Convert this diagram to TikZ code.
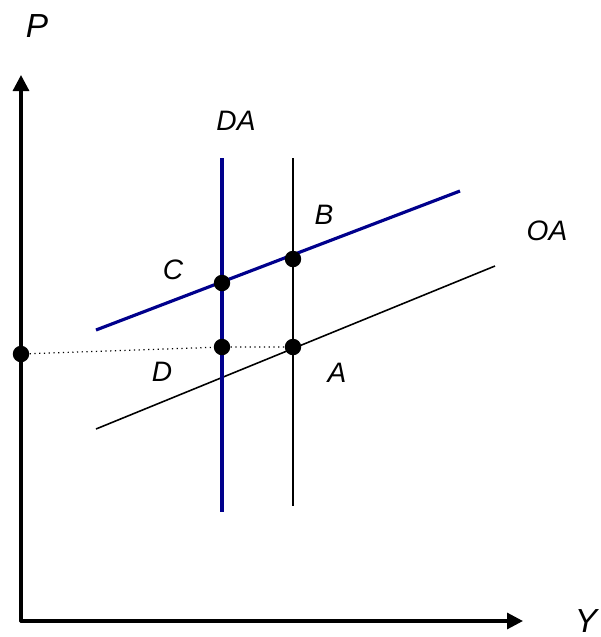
\documentclass[tikz,border=0pt]{standalone}
\usepackage{fontspec}
\setmainfont{Liberation Sans}
\usetikzlibrary{arrows.meta}
\definecolor{daBlue}{RGB}{0,0,140}

\begin{document}
\begin{tikzpicture}[x=0.02cm,y=-0.02cm,
    lbl/.style={font=\itshape\fontsize{16}{16}\selectfont, inner sep=0pt},
    axlbl/.style={font=\itshape\fontsize{19}{19}\selectfont, inner sep=0pt},
    eqpt/.style={circle, fill=black, inner sep=0pt, minimum size=0.33cm}]
    \useasboundingbox (0,0) rectangle (600,637);

    % axes
    \coordinate (orig) at (21,621);
    \coordinate (ptop) at (21,75);
    \coordinate (yend) at (523,621);
    \draw[line width=1.8pt, line cap=round, -{Triangle[length=0.32cm,width=0.32cm]}] (orig) -- (ptop);
    \draw[line width=1.8pt, line cap=round, -{Triangle[length=0.32cm,width=0.32cm]}] (orig) -- (yend);
    \node[axlbl] (labP) at (37,26) {P};
    \node[axlbl] (labY) at (586,621) {Y};

    % curves
    \coordinate (oaL) at (96,429);
    \coordinate (oaR) at (495,266);
    \coordinate (daL) at (96,330);
    \coordinate (daR) at (460,191);
    \coordinate (vbTop) at (222,158);
    \coordinate (vbBot) at (222,512);
    \coordinate (vkTop) at (293,158);
    \coordinate (vkBot) at (293,506);

    \draw[black, line width=0.9pt] (oaL) -- (oaR);
    \draw[black, line width=0.9pt] (vkTop) -- (vkBot);
    \draw[daBlue, line width=1.8pt] (daL) -- (daR);
    \draw[daBlue, line width=1.8pt] (vbTop) -- (vbBot);

    % equilibrium points
    \node[eqpt] (ptA) at (293,347) {};
    \node[eqpt] (ptB) at (293,259) {};
    \node[eqpt] (ptC) at (222,283) {};
    \node[eqpt] (ptD) at (222,347) {};
    \node[eqpt] (ptP) at (21,354) {};
    \draw[black, line width=0.7pt, dotted] (ptP) -- (ptD) -- (ptA);

    \node[lbl] (labDA) at (236,121) {DA};
    \node[lbl] (labOA) at (547,231) {OA};
    \node[lbl] (labA) at (337,373) {A};
    \node[lbl] (labB) at (324,215) {B};
    \node[lbl] (labC) at (173,270) {C};
    \node[lbl] (labD) at (162,372) {D};
\end{tikzpicture}
\end{document}
